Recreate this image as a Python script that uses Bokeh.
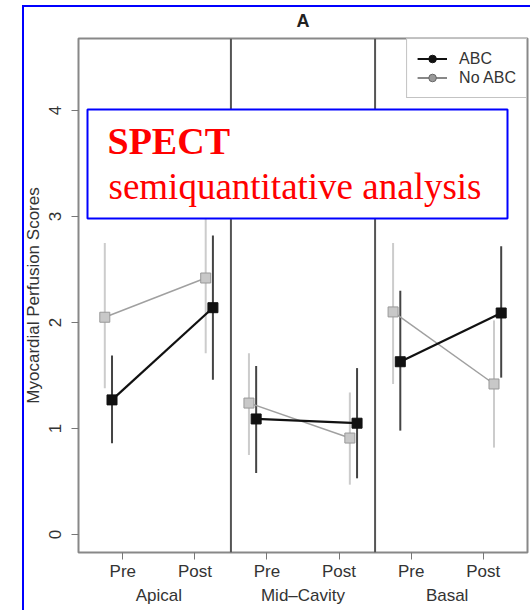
from bokeh.plotting import figure
from bokeh.models import (FactorRange, Range1d, FixedTicker, Span, BoxAnnotation,
                          Label, Legend, LegendItem)
from bokeh.embed import file_html
from bokeh.resources import INLINE

# ---- data ----
regions = ["Apical", "Mid–Cavity", "Basal"]
phases = ["Pre", "Post"]
y_ticks = [0, 1, 2, 3, 4]

abc_mean = [1.27, 2.14, 1.09, 1.05, 1.63, 2.09]
abc_lower = [0.86, 1.46, 0.58, 0.53, 0.98, 1.48]
abc_upper = [1.69, 2.82, 1.59, 1.57, 2.30, 2.72]

noabc_mean = [2.05, 2.42, 1.24, 0.91, 2.10, 1.42]
noabc_lower = [1.38, 1.71, 0.75, 0.47, 1.42, 0.82]
noabc_upper = [2.75, 3.13, 1.71, 1.34, 2.75, 2.02]

series_names = ["ABC", "No ABC"]

# ---- styling ----
FONT = "Liberation Sans"
TXT = "#333333"
BLACK = "#111111"
GRAY = "#a0a0a0"
GRAY_FILL = "#c8c8c8"
GRAY_BAR = "#cccccc"
BLACK_BAR = "#444444"

factors = [(r, ph) for r in regions for ph in phases]
x_range = FactorRange(*factors, factor_padding=0, group_padding=0, subgroup_padding=0,
                      range_padding=0.115, range_padding_units="absolute")

p = figure(x_range=x_range, y_range=Range1d(-0.17, 4.68), width=530, height=610,
           output_backend="svg", toolbar_location=None, title="A",
           min_border_left=78, min_border_right=3, min_border_top=38, min_border_bottom=58)

p.background_fill_color = "white"
p.border_fill_alpha = 0
p.styles = {
    "background": ("linear-gradient(#0000ff, #0000ff) 22px 5px / 2px 100% no-repeat, "
                   "linear-gradient(#0000ff, #0000ff) 22px 5px / 100% 2px no-repeat, #ffffff"),
}
p.outline_line_color = "#888888"
p.outline_line_width = 2
p.xgrid.visible = False
p.ygrid.visible = False

p.title.align = "center"
p.title.text_font = FONT
p.title.text_font_size = "18px"
p.title.text_font_style = "bold"
p.title.text_color = "#222222"
p.title.standoff = 16

# y axis
p.yaxis.ticker = FixedTicker(ticks=y_ticks)
p.yaxis.major_label_orientation = "vertical"
p.yaxis.axis_label = "Myocardial Perfusion Scores"
p.yaxis.axis_label_text_font = FONT
p.yaxis.axis_label_text_font_style = "normal"
p.yaxis.axis_label_text_font_size = "17px"
p.yaxis.axis_label_text_color = TXT
p.yaxis.major_label_text_font = FONT
p.yaxis.major_label_text_font_size = "17px"
p.yaxis.major_label_text_color = TXT
p.yaxis.major_tick_out = 7
p.yaxis.major_tick_in = 0
p.yaxis.minor_tick_line_color = None
p.yaxis.axis_line_color = None
p.yaxis.major_tick_line_color = "#777777"
p.yaxis.major_label_standoff = 10
p.yaxis.axis_label_standoff = 4

# x axis
p.xaxis.major_label_text_font = FONT
p.xaxis.major_label_text_font_size = "17px"
p.xaxis.major_label_text_color = TXT
p.xaxis.major_label_text_line_height = 1.5
p.xaxis.group_text_font = FONT
p.xaxis.group_text_font_size = "17px"
p.xaxis.group_text_font_style = "normal"
p.xaxis.group_text_color = TXT
p.xaxis.major_tick_out = 7
p.xaxis.major_tick_in = 0
p.xaxis.major_tick_line_color = "#777777"
p.xaxis.axis_line_color = None
p.xaxis.separator_line_color = None
p.xaxis.major_label_standoff = 2

# panel dividers
for loc in (2, 4):
    p.add_layout(Span(location=loc, dimension="height", line_color="#555555", line_width=2))

def xs_for(offsets):
    return [(r, ph, offsets[ph]) for r in regions for ph in phases]

gray_off = {"Pre": -0.25, "Post": 0.15}
black_off = {"Pre": -0.15, "Post": 0.25}
gx = xs_for(gray_off)
bx = xs_for(black_off)

# error bars
p.segment(x0=gx, y0=noabc_lower, x1=gx, y1=noabc_upper, line_color=GRAY_BAR, line_width=2)
p.segment(x0=bx, y0=abc_lower, x1=bx, y1=abc_upper, line_color=BLACK_BAR, line_width=2)

# connecting lines per panel
g_xs = [[gx[2 * i], gx[2 * i + 1]] for i in range(len(regions))]
g_ys = [[noabc_mean[2 * i], noabc_mean[2 * i + 1]] for i in range(len(regions))]
b_xs = [[bx[2 * i], bx[2 * i + 1]] for i in range(len(regions))]
b_ys = [[abc_mean[2 * i], abc_mean[2 * i + 1]] for i in range(len(regions))]
p.multi_line(xs=g_xs, ys=g_ys, line_color=GRAY, line_width=1.5)
p.multi_line(xs=b_xs, ys=b_ys, line_color=BLACK, line_width=2.2)

# markers
p.scatter(x=gx, y=noabc_mean, marker="square", size=10, fill_color=GRAY_FILL,
          line_color="#999999", line_width=1)
p.scatter(x=bx, y=abc_mean, marker="square", size=10, fill_color=BLACK,
          line_color=BLACK)

# legend: key-only renderers placed below the visible y range
key_x = [factors[0]]
key_y = [-10]
l1 = p.line(x=key_x, y=key_y, line_color=BLACK, line_width=2)
m1 = p.scatter(x=key_x, y=key_y, marker="circle", size=8, fill_color=BLACK, line_color=BLACK)
l2 = p.line(x=key_x, y=key_y, line_color="#888888", line_width=2)
m2 = p.scatter(x=key_x, y=key_y, marker="circle", size=8, fill_color="#999999",
               line_color="#666666")
legend = Legend(items=[LegendItem(label=series_names[0], renderers=[l1, m1]),
                       LegendItem(label=series_names[1], renderers=[l2, m2])],
                location="top_right", margin=0, padding=10, spacing=0,
                glyph_width=30, glyph_height=19, label_height=19, label_standoff=12,
                border_line_color="#888888", border_line_width=1,
                label_text_font=FONT, label_text_font_size="16px", label_text_color=TXT)
p.add_layout(legend)

# overlay annotation box
p.add_layout(BoxAnnotation(left=9, right=429, top=443, bottom=334,
                           left_units="screen", right_units="screen",
                           top_units="screen", bottom_units="screen",
                           fill_color="white", fill_alpha=1,
                           line_color="#0000ff", line_width=2, line_alpha=1))
p.add_layout(Label(x=29, y=412, x_units="screen", y_units="screen", text="SPECT",
                   text_font="Liberation Serif", text_font_style="bold",
                   text_font_size="38px", text_color="#ff0000", text_baseline="alphabetic"))
p.add_layout(Label(x=30, y=366, x_units="screen", y_units="screen",
                   text="semiquantitative analysis",
                   text_font="Liberation Serif", text_font_size="37px",
                   text_color="#ff0000", text_baseline="alphabetic"))

open("out.html", "w").write(file_html(p, INLINE))
